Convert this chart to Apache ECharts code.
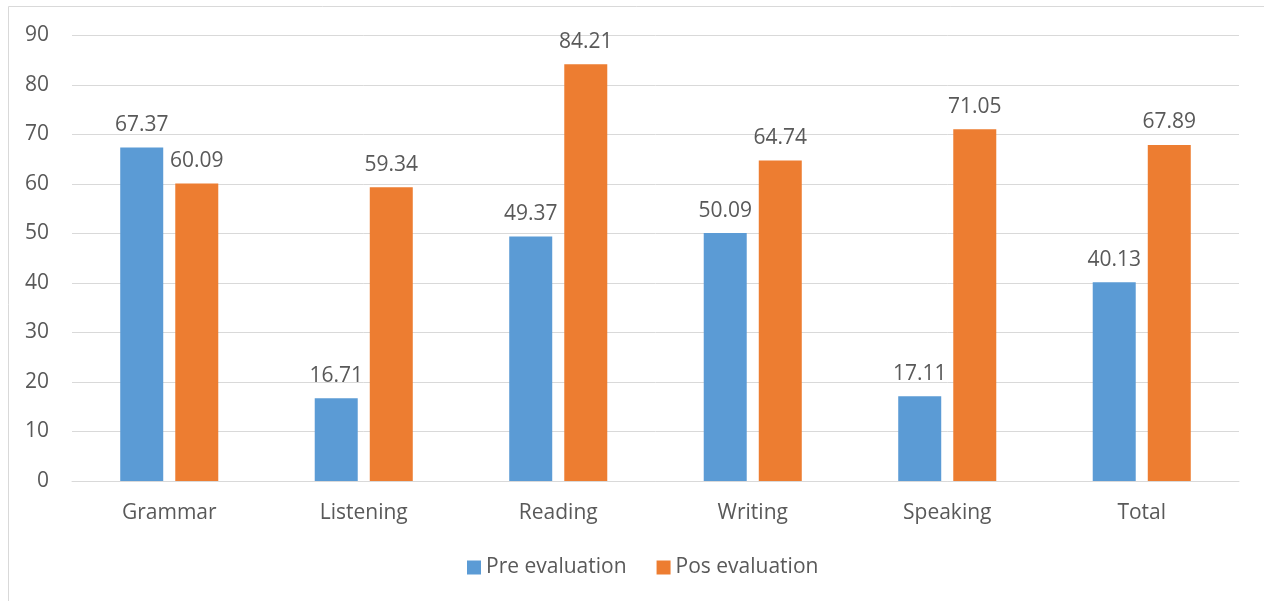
<!DOCTYPE html>
<html>
<head>
<meta charset="utf-8">
<script src="https://cdn.jsdelivr.net/npm/echarts@6/dist/echarts.min.js"></script>
<style>
  html, body { margin: 0; padding: 0; background: #fff; }
  #chart { width: 1264px; height: 601px; }
</style>
</head>
<body>
<div id="chart"></div>
<script>
// Skill areas and scores before and after the evaluation
const categories = ['Grammar', 'Listening', 'Reading', 'Writing', 'Speaking', 'Total'];
const preEvaluation = [67.37, 16.71, 49.37, 50.09, 17.11, 40.13];
const posEvaluation = [60.09, 59.34, 84.21, 64.74, 71.05, 67.89];
const yTicks = { min: 0, max: 90, interval: 10 };

const FONT = '"Open Sans", "Noto Sans", sans-serif';
const TEXT = '#595959';
const GRID = '#d9d9d9';
const SIZE = 21;

const chart = echarts.init(document.getElementById('chart'), null, { renderer: 'canvas' });

const labelStyle = {
  show: true,
  position: 'top',
  distance: 12,
  color: TEXT,
  fontFamily: FONT,
  fontSize: SIZE,
  formatter: p => p.value.toFixed(2)
};

chart.setOption({
  animation: false,
  backgroundColor: '#fff',
  textStyle: { fontFamily: FONT, color: TEXT },
  graphic: [{
    type: 'rect',
    shape: { x: 8.5, y: 6.5, width: 1300, height: 700 },
    style: { fill: 'none', stroke: GRID, lineWidth: 1 },
    silent: true
  }],
  grid: { left: 72, right: 25, top: 35.5, bottom: 120, containLabel: false },
  legend: {
    bottom: 23,
    left: 467,
    padding: 0,
    itemWidth: 14,
    itemHeight: 14,
    itemGap: 30,
    icon: 'rect',
    textStyle: { color: TEXT, fontFamily: FONT, fontSize: SIZE },
    data: ['Pre evaluation', 'Pos evaluation']
  },
  xAxis: {
    type: 'category',
    data: categories,
    axisLine: { show: true, lineStyle: { color: GRID, width: 1 } },
    axisTick: { show: false },
    axisLabel: { color: TEXT, fontFamily: FONT, fontSize: SIZE, margin: 22 }
  },
  yAxis: {
    type: 'value',
    min: yTicks.min,
    max: yTicks.max,
    interval: yTicks.interval,
    axisLine: { show: false },
    axisTick: { show: false },
    splitLine: { lineStyle: { color: GRID, width: 1 } },
    axisLabel: { color: TEXT, fontFamily: FONT, fontSize: SIZE, margin: 23 }
  },
  series: [
    {
      name: 'Pre evaluation',
      type: 'bar',
      data: preEvaluation,
      barWidth: 43,
      barGap: '28%',
      itemStyle: { color: '#5b9bd5' },
      label: labelStyle
    },
    {
      name: 'Pos evaluation',
      type: 'bar',
      data: posEvaluation,
      barWidth: 43,
      itemStyle: { color: '#ed7d31' },
      label: labelStyle
    }
  ]
});
</script>
</body>
</html>
